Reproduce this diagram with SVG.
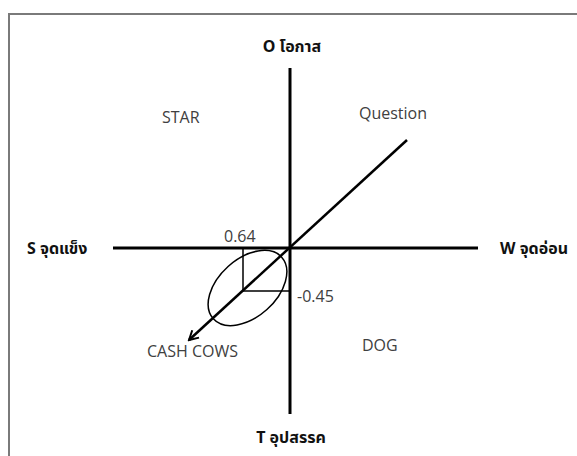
<svg xmlns="http://www.w3.org/2000/svg" width="577" height="456" viewBox="0 0 577 456">
<style>
.lbl{font-family:"Open Sans","Noto Sans","Noto Sans Thai",sans-serif;font-size:16px;fill:#404040}
.ax{font-family:"Noto Sans","Noto Sans Thai","Open Sans",sans-serif;font-size:16px;font-weight:bold;fill:#111}
.axis{stroke:#000;stroke-width:3;fill:none}
.thin{stroke:#000;stroke-width:1.5;fill:none}
</style>
<defs>
<marker id="arr" markerWidth="12" markerHeight="12" refX="10" refY="6" orient="auto" markerUnits="userSpaceOnUse">
<path d="M1,1 L10,6 L1,11" fill="none" stroke="#000" stroke-width="2"/>
</marker>
</defs>
<rect x="0" y="0" width="577" height="456" fill="#fff"/>
<path d="M9,456 V14 H577" fill="none" stroke="#7a7a7a" stroke-width="2"/>
<g id="connectors">
<line class="axis" x1="290" y1="68" x2="290" y2="414"/>
<line class="axis" x1="113" y1="248" x2="478" y2="248"/>
<line x1="407" y1="140" x2="189" y2="340" stroke="#000" stroke-width="2.5" marker-end="url(#arr)"/>
<path class="thin" d="M243,248 V291 H290"/>
<ellipse class="thin" cx="247.5" cy="288" rx="46" ry="29" transform="rotate(-42 247.5 288)" stroke="#444"/>
</g>
<g id="axis-O"><text class="ax" x="292" y="52" text-anchor="middle">O โอกาส</text></g>
<g id="axis-S"><text class="ax" x="27" y="254">S จุดแข็ง</text></g>
<g id="axis-W"><text class="ax" x="500" y="254">W จุดอ่อน</text></g>
<g id="axis-T"><text class="ax" x="291" y="443" text-anchor="middle">T อุปสรรค</text></g>
<g id="star"><text class="lbl" x="162" y="123">STAR</text></g>
<g id="question"><text class="lbl" x="359" y="119">Question</text></g>
<g id="cashcows"><text class="lbl" x="147" y="357">CASH COWS</text></g>
<g id="dog"><text class="lbl" x="362" y="351">DOG</text></g>
<g id="v064"><text class="lbl" x="224" y="242">0.64</text></g>
<g id="v045"><text class="lbl" x="297" y="302">-0.45</text></g>
</svg>
